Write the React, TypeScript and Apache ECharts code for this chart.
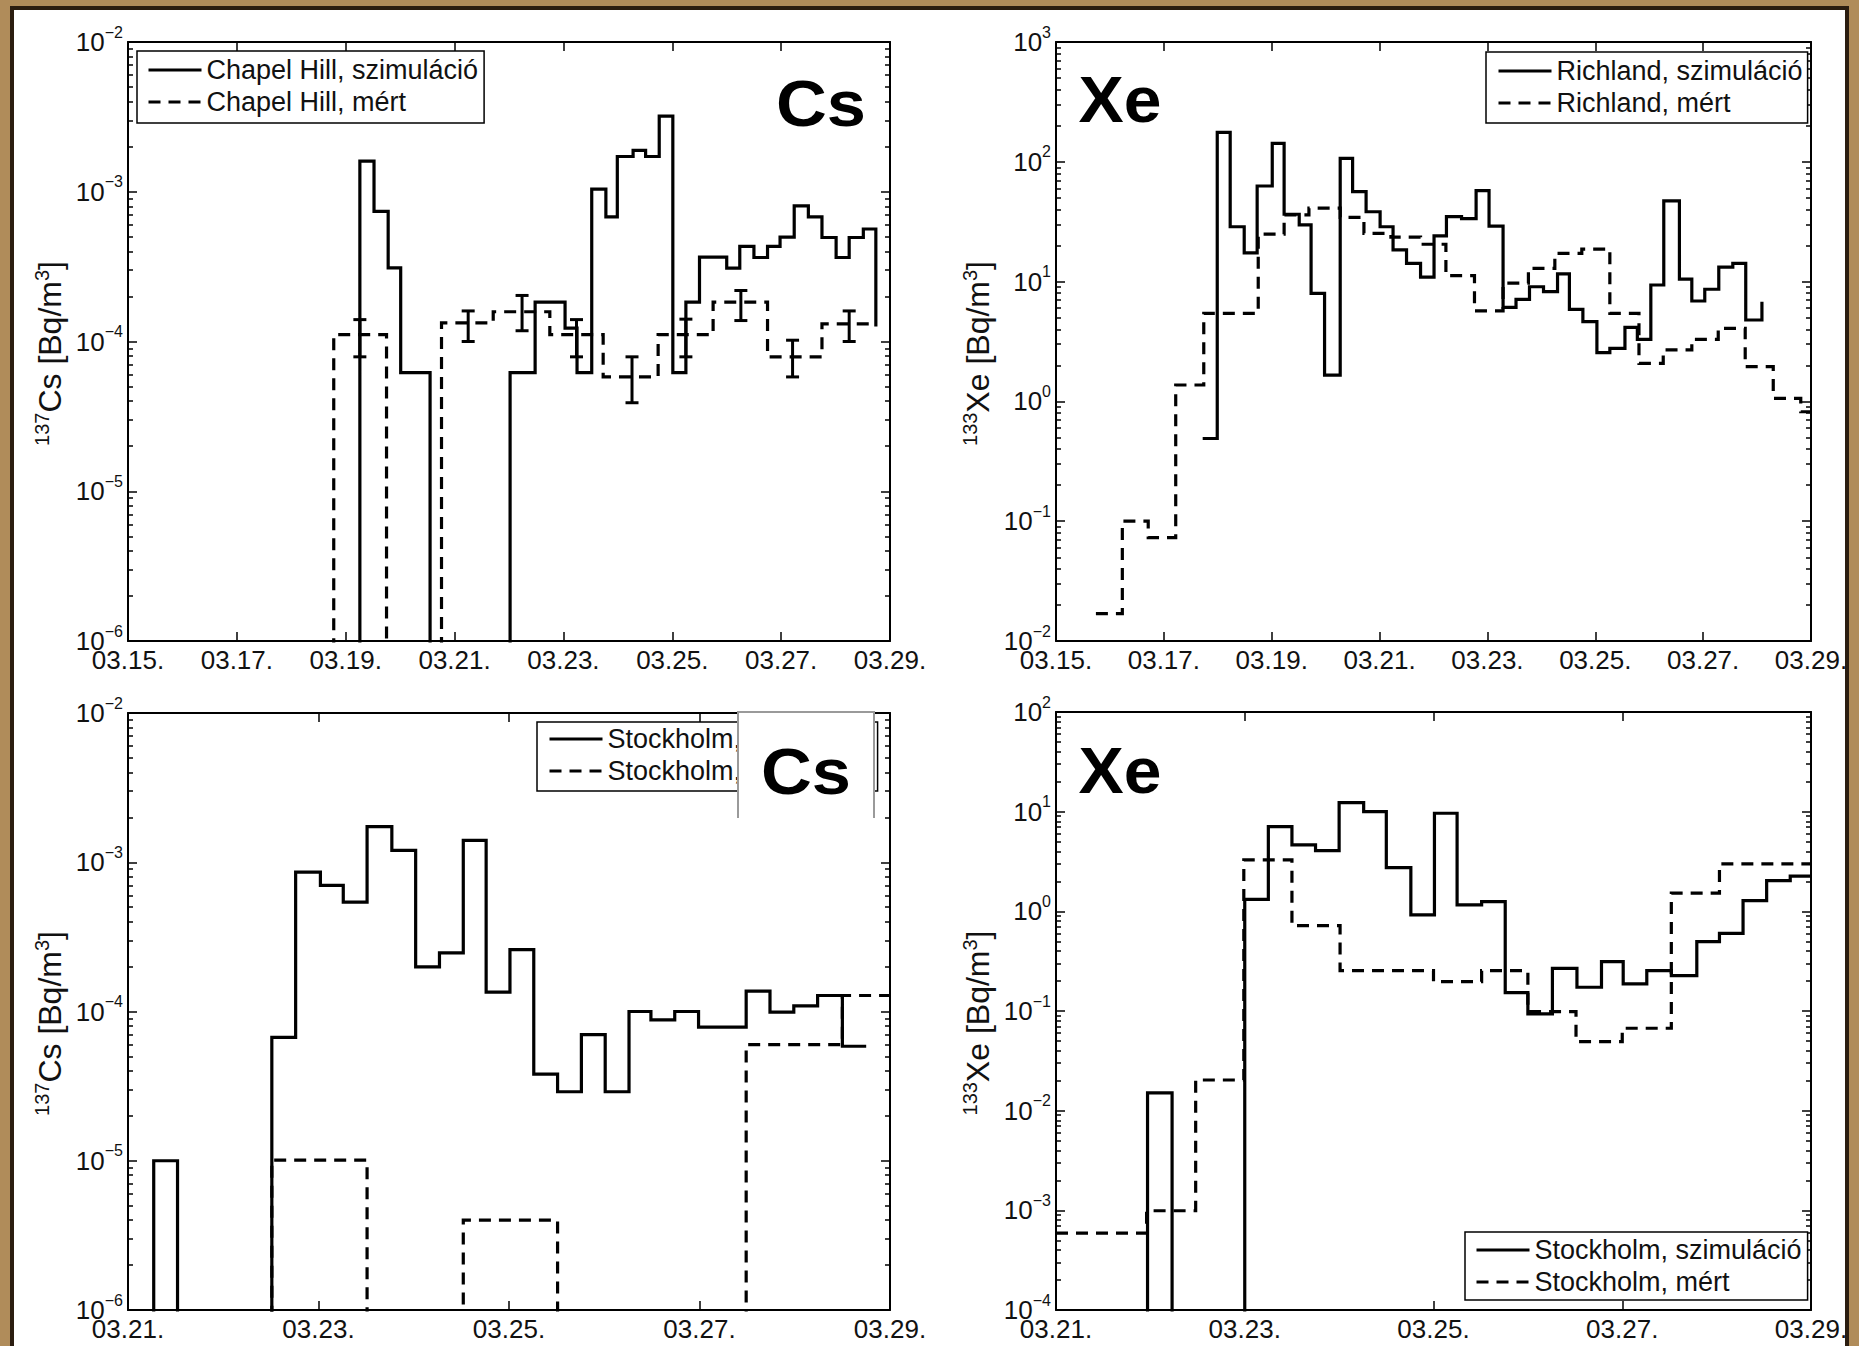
import React, { useEffect, useRef } from 'react';
import * as echarts from 'echarts';

// value used for "zero" (below the axis range) in the stair plots
const BELOW = 1e-9;

// ---------- Chapel Hill, 137Cs ----------
const chapelSimDays = [19.26, 19.26, 19.52, 19.78, 20.01, 20.55, 22.02, 22.48, 23.03, 23.25, 23.52, 23.78, 23.99, 24.28, 24.51, 24.76, 25.01, 25.25, 25.50, 26.00, 26.24, 26.50, 26.75, 26.98, 27.24, 27.50, 27.75, 28.01, 28.25, 28.51, 28.74];
const chapelSimValues = [BELOW, 1.6e-3, 7.4e-4, 3.1e-4, 6.2e-5, BELOW, 6.2e-5, 1.83e-4, 1.23e-4, 6.2e-5, 1.04e-3, 6.8e-4, 1.72e-3, 1.89e-3, 1.72e-3, 3.2e-3, 6.2e-5, 1.83e-4, 3.66e-4, 3.09e-4, 4.32e-4, 3.64e-4, 4.32e-4, 4.98e-4, 8.05e-4, 6.8e-4, 4.95e-4, 3.64e-4, 4.95e-4, 5.64e-4, 1.26e-4];
const chapelMeasDays = [18.78, 18.78, 19.75, 20.76, 21.71, 22.75, 23.73, 24.74, 25.75, 26.75, 27.75, 28.74];
const chapelMeasValues = [BELOW, 1.11e-4, BELOW, 1.33e-4, 1.58e-4, 1.11e-4, 5.8e-5, 1.11e-4, 1.83e-4, 7.9e-5, 1.31e-4, 1.31e-4];
const chapelErrDays = [19.26, 21.25, 22.24, 23.24, 24.26, 25.25, 26.26, 27.21, 28.25];
const chapelErrLow = [7.9e-5, 1.0e-4, 1.18e-4, 7.9e-5, 3.9e-5, 7.9e-5, 1.38e-4, 5.8e-5, 1.0e-4];
const chapelErrHigh = [1.4e-4, 1.6e-4, 2.03e-4, 1.4e-4, 7.9e-5, 1.41e-4, 2.19e-4, 1.02e-4, 1.6e-4];

// ---------- Richland, 133Xe ----------
const richSimDays = [17.72, 17.99, 18.23, 18.49, 18.73, 19.01, 19.23, 19.51, 19.73, 19.98, 20.27, 20.50, 20.75, 21.01, 21.25, 21.50, 21.76, 22.01, 22.24, 22.52, 22.79, 23.03, 23.29, 23.53, 23.78, 24.04, 24.30, 24.52, 24.77, 25.03, 25.27, 25.55, 25.78, 26.03, 26.27, 26.56, 26.79, 27.03, 27.29, 27.55, 27.79, 28.09];
const richSimValues = [0.49, 176, 28.7, 17.4, 62.8, 142.6, 36.5, 29.7, 7.98, 1.66, 107, 56.3, 38.3, 28.7, 18.4, 14.2, 10.9, 24.1, 34.8, 33.5, 57.4, 29.1, 6.1, 7.1, 9.06, 8.24, 11.6, 5.87, 4.63, 2.55, 2.77, 4.15, 3.3, 9.37, 47.1, 10.5, 6.89, 8.63, 13.2, 14.2, 4.78, 6.8];
const richMeasDays = [15.74, 16.23, 16.71, 17.22, 17.74, 18.75, 19.23, 19.69, 20.27, 20.71, 21.21, 21.76, 22.23, 22.76, 23.29, 23.76, 24.25, 24.75, 25.27, 25.81, 26.26, 26.79, 27.28, 27.78, 28.30, 28.81, 29.00];
const richMeasValues = [0.0169, 0.10, 0.073, 1.37, 5.43, 24.9, 36, 41, 34.4, 25.3, 23.5, 20.5, 11.2, 5.7, 9.7, 12.9, 17.2, 18.7, 5.43, 2.08, 2.69, 3.3, 4.07, 1.95, 1.06, 0.82, 0.82];

// ---------- Stockholm, 137Cs ----------
const stockCsSimDays = [21.27, 21.27, 21.52, 22.51, 22.76, 23.02, 23.26, 23.51, 23.77, 24.02, 24.27, 24.52, 24.76, 25.01, 25.26, 25.51, 25.76, 26.01, 26.26, 26.49, 26.74, 26.99, 27.49, 27.74, 27.99, 28.24, 28.50, 28.75];
const stockCsSimValues = [BELOW, 1.0e-5, BELOW, 6.7e-5, 8.6e-4, 7.0e-4, 5.4e-4, 1.73e-3, 1.2e-3, 1.99e-4, 2.47e-4, 1.4e-3, 1.35e-4, 2.6e-4, 3.8e-5, 2.9e-5, 7.0e-5, 2.9e-5, 1.0e-4, 8.8e-5, 1.0e-4, 7.85e-5, 1.37e-4, 9.9e-5, 1.09e-4, 1.28e-4, 5.85e-5, 5.85e-5];
const stockCsMeasDays = [22.51, 22.51, 23.51, 24.52, 25.51, 27.49, 28.50, 29.00];
const stockCsMeasValues = [BELOW, 1.01e-5, BELOW, 4.0e-6, BELOW, 6.0e-5, 1.28e-4, 1.28e-4];

// ---------- Stockholm, 133Xe ----------
const stockXeSimDays = [21.97, 21.97, 22.23, 23.00, 23.25, 23.50, 23.75, 24.00, 24.26, 24.50, 24.76, 25.01, 25.25, 25.51, 25.76, 26.00, 26.26, 26.52, 26.78, 27.01, 27.26, 27.52, 27.79, 28.03, 28.28, 28.53, 28.78, 29.00];
const stockXeSimValues = [BELOW, 0.0151, BELOW, 1.32, 7.08, 4.64, 4.07, 12.3, 10.0, 2.74, 0.92, 9.64, 1.16, 1.25, 0.153, 0.0935, 0.268, 0.173, 0.313, 0.187, 0.254, 0.226, 0.497, 0.602, 1.28, 2.03, 2.26, 2.26];
const stockXeMeasDays = [21.00, 21.96, 22.48, 22.99, 23.50, 24.01, 25.00, 25.51, 26.00, 26.51, 27.00, 27.52, 28.03, 29.00];
const stockXeMeasValues = [5.9e-4, 9.9e-4, 0.0203, 3.28, 0.718, 0.254, 0.197, 0.254, 0.0986, 0.0493, 0.0671, 1.52, 2.99, 2.99];

// ---------- axis ticks ----------
const dayTicksLong = [15, 17, 19, 21, 23, 25, 27, 29];
const dayTicksShort = [21, 23, 25, 27, 29];
const minorMultipliers = [2, 3, 4, 5, 6, 7, 8, 9];

const FONT = "'Liberation Sans', Arial, Helvetica, sans-serif";
const INK = '#111';

function pairs(xs: number[], ys: number[]) {
  return xs.map((x, i) => [x, ys[i]]);
}

function minorTicks(loExp: number, hiExp: number) {
  const out: number[] = [];
  for (let e = loExp; e < hiExp; e++) {
    for (const m of minorMultipliers) out.push(m * Math.pow(10, e));
  }
  return out;
}

function powLabel(v: number) {
  const e = Math.round(Math.log10(v));
  return `{b|10}{e|${e < 0 ? '\u2212' : ''}${Math.abs(e)}}`;
}

type Panel = {
  grid: { left: number; top: number; width: number; height: number };
  xMin: number;
  xMax: number;
  xTicks: number[];
  yLo: number;
  yHi: number;
  yName: string;
  legend: { left: number; top: number; padding: number[] };
  simName: string;
  measName: string;
  sim: number[][];
  meas: number[][];
  err?: number[][];
};

const panels: Panel[] = [
  {
    grid: { left: 128, top: 42, width: 762, height: 599 },
    xMin: 15, xMax: 29, xTicks: dayTicksLong, yLo: -6, yHi: -2,
    yName: '{s|137}Cs [Bq/m{s|3}]',
    legend: { left: 137, top: 51, padding: [5, 6, 7, 10] },
    simName: 'Chapel Hill, szimuláció', measName: 'Chapel Hill, mért',
    sim: pairs(chapelSimDays, chapelSimValues),
    meas: pairs(chapelMeasDays, chapelMeasValues),
    err: chapelErrDays.map((d, i) => [d, chapelErrLow[i], chapelErrHigh[i]]),
  },
  {
    grid: { left: 1056, top: 42, width: 755, height: 599 },
    xMin: 15, xMax: 29, xTicks: dayTicksLong, yLo: -2, yHi: 3,
    yName: '{s|133}Xe [Bq/m{s|3}]',
    legend: { left: 1486, top: 52, padding: [5, 5, 6, 11] },
    simName: 'Richland, szimuláció', measName: 'Richland, mért',
    sim: pairs(richSimDays, richSimValues),
    meas: pairs(richMeasDays, richMeasValues),
  },
  {
    grid: { left: 128, top: 713, width: 762, height: 597 },
    xMin: 21, xMax: 29, xTicks: dayTicksShort, yLo: -6, yHi: -2,
    yName: '{s|137}Cs [Bq/m{s|3}]',
    legend: { left: 537, top: 722, padding: [3, 3, 6, 11] },
    simName: 'Stockholm, szimuláció', measName: 'Stockholm, mért',
    sim: pairs(stockCsSimDays, stockCsSimValues),
    meas: pairs(stockCsMeasDays, stockCsMeasValues),
  },
  {
    grid: { left: 1056, top: 712, width: 755, height: 598 },
    xMin: 21, xMax: 29, xTicks: dayTicksShort, yLo: -4, yHi: 2,
    yName: '{s|133}Xe [Bq/m{s|3}]',
    legend: { left: 1465, top: 1232, padding: [4, 6, 4, 10] },
    simName: 'Stockholm, szimuláció', measName: 'Stockholm, mért',
    sim: pairs(stockXeSimDays, stockXeSimValues),
    meas: pairs(stockXeMeasDays, stockXeMeasValues),
  },
];

function buildOption() {
  const axisLineStyle = { color: '#000', width: 2 };
  const tickStyle = { color: '#000', width: 1.5 };
  const grid: any[] = [];
  const xAxis: any[] = [];
  const yAxis: any[] = [];
  const series: any[] = [];
  const legend: any[] = [];

  panels.forEach((p, i) => {
    grid.push({ ...p.grid, containLabel: false, outerBoundsMode: 'none' });

    const xBase = {
      type: 'value', gridIndex: i, min: p.xMin, max: p.xMax,
      splitLine: { show: false },
      axisLine: { show: true, onZero: false, lineStyle: axisLineStyle },
      axisTick: { show: true, inside: true, length: 9, customValues: p.xTicks, lineStyle: tickStyle },
    };
    xAxis.push({
      ...xBase, position: 'bottom',
      axisLabel: {
        show: true, customValues: p.xTicks, margin: 6,
        formatter: (v: number) => `03.${v}.`,
        fontSize: 26, fontFamily: FONT, color: INK,
      },
    });
    xAxis.push({ ...xBase, position: 'top', axisLabel: { show: false } });

    const yMin = Math.pow(10, p.yLo);
    const yMax = Math.pow(10, p.yHi);
    const minors = minorTicks(p.yLo, p.yHi);
    const yBase = { type: 'log', logBase: 10, gridIndex: i, min: yMin, max: yMax, splitLine: { show: false } };
    yAxis.push({
      ...yBase, position: 'left',
      axisLine: { show: true, onZero: false, lineStyle: axisLineStyle },
      axisTick: { show: true, inside: true, length: 9, lineStyle: tickStyle },
      axisLabel: {
        show: true, margin: 5, formatter: powLabel,
        rich: {
          b: { fontSize: 26, fontFamily: FONT, color: INK },
          e: { fontSize: 16, fontFamily: FONT, color: INK, padding: [0, 0, 20, 0] },
        },
      },
      name: p.yName, nameLocation: 'middle', nameRotate: 90, nameGap: 60,
      nameTextStyle: {
        fontSize: 32, fontFamily: FONT, color: INK, padding: [0, 24, 0, 0],
        rich: { s: { fontSize: 20, fontFamily: FONT, color: INK, padding: [0, 0, 16, 0] } },
      },
    });
    yAxis.push({
      ...yBase, position: 'left', axisLine: { show: false },
      axisTick: { show: true, inside: true, length: 5, customValues: minors, lineStyle: tickStyle },
      axisLabel: { show: false },
    });
    yAxis.push({
      ...yBase, position: 'right',
      axisLine: { show: true, onZero: false, lineStyle: axisLineStyle },
      axisTick: { show: true, inside: true, length: 9, lineStyle: tickStyle },
      axisLabel: { show: false },
    });
    yAxis.push({
      ...yBase, position: 'right', axisLine: { show: false },
      axisTick: { show: true, inside: true, length: 5, customValues: minors, lineStyle: tickStyle },
      axisLabel: { show: false },
    });

    const xi = 2 * i;
    const yi = 4 * i;
    series.push({
      type: 'line', name: p.simName, xAxisIndex: xi, yAxisIndex: yi,
      data: p.sim, step: 'end', symbol: 'none', showSymbol: false, clip: true, z: 3,
      lineStyle: { color: '#000', width: 3.2, type: 'solid', join: 'miter', cap: 'butt' },
      itemStyle: { color: '#000' },
    });
    series.push({
      type: 'line', name: p.measName, xAxisIndex: xi, yAxisIndex: yi,
      data: p.meas, step: 'end', symbol: 'none', showSymbol: false, clip: true, z: 3,
      lineStyle: { color: '#000', width: 3.2, type: [12, 8], join: 'miter', cap: 'butt' },
      itemStyle: { color: '#000' },
    });
    if (p.err) {
      series.push({
        type: 'custom', name: p.measName + ' (hiba)', xAxisIndex: xi, yAxisIndex: yi,
        data: p.err, clip: true, z: 4,
        encode: { x: 0, y: [1, 2] },
        renderItem: (params: any, api: any) => {
          const x = api.value(0);
          const lo = api.coord([x, api.value(1)]);
          const hi = api.coord([x, api.value(2)]);
          const w = 6.5;
          const st = { stroke: '#000', lineWidth: 3 };
          return {
            type: 'group',
            children: [
              { type: 'line', shape: { x1: lo[0], y1: lo[1], x2: hi[0], y2: hi[1] }, style: st },
              { type: 'line', shape: { x1: lo[0] - w, y1: lo[1], x2: lo[0] + w, y2: lo[1] }, style: st },
              { type: 'line', shape: { x1: hi[0] - w, y1: hi[1], x2: hi[0] + w, y2: hi[1] }, style: st },
            ],
          };
        },
      });
    }

    legend.push({
      orient: 'vertical', left: p.legend.left, top: p.legend.top, padding: p.legend.padding,
      itemGap: 4, itemWidth: 53, itemHeight: 14,
      data: [p.simName, p.measName],
      borderColor: '#000', borderWidth: 1.5, backgroundColor: '#fff',
      selectedMode: false,
      textStyle: { fontSize: 27, fontFamily: FONT, color: INK, lineHeight: 28 },
      lineStyle: { width: 3 },
      itemStyle: { color: 'rgba(0,0,0,0)', borderWidth: 0, opacity: 0 },
      z: 5,
    });
  });

  const tagFont = { fontSize: 64, fontWeight: 'bold', fontFamily: FONT, fill: '#000', align: 'center', verticalAlign: 'middle' };
  const graphic = [
    { type: 'rect', z: 100, shape: { x: 738, y: 711, width: 136, height: 107 }, style: { fill: '#fff' } },
    { type: 'polyline', z: 101, shape: { points: [[738, 818], [738, 712], [874, 712], [874, 818]] }, style: { stroke: '#9a9a9a', lineWidth: 2, fill: null } },
    { type: 'text', z: 102, x: 821, y: 104, scaleX: 1.1, style: { ...tagFont, text: 'Cs' } },
    { type: 'text', z: 102, x: 1120, y: 100, scaleX: 1.06, style: { ...tagFont, text: 'Xe' } },
    { type: 'text', z: 102, x: 806, y: 772, scaleX: 1.1, style: { ...tagFont, text: 'Cs' } },
    { type: 'text', z: 102, x: 1120, y: 771, scaleX: 1.06, style: { ...tagFont, text: 'Xe' } },
  ];

  return {
    animation: false,
    backgroundColor: 'transparent',
    textStyle: { fontFamily: FONT },
    grid, xAxis, yAxis, series, legend, graphic,
  };
}

export default function App() {
  const ref = useRef<HTMLDivElement>(null);
  useEffect(() => {
    const chart = echarts.init(ref.current as HTMLDivElement, null, { renderer: 'svg', width: 1859, height: 1346 });
    chart.setOption(buildOption() as any);
    return () => chart.dispose();
  }, []);
  return (
    <div style={{ position: 'fixed', left: 0, top: 0, width: 1859, height: 1346, background: '#b08c5a', overflow: 'hidden' }}>
      <div style={{ position: 'absolute', left: 10, top: 6, width: 1839, height: 1370, boxSizing: 'border-box', border: '4px solid #2b1d10', background: '#fff' }} />
      <div ref={ref} style={{ position: 'absolute', left: 0, top: 0, width: 1859, height: 1346 }} />
    </div>
  );
}
